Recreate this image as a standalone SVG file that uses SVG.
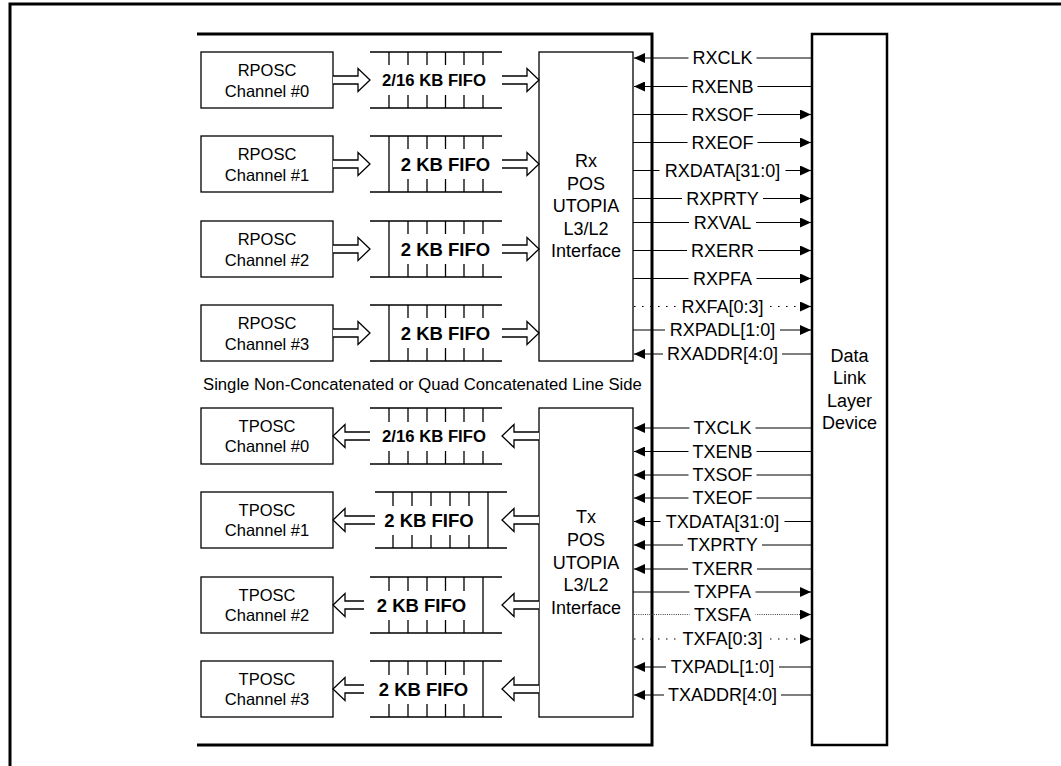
<svg xmlns="http://www.w3.org/2000/svg" width="1061" height="766" viewBox="0 0 1061 766">
<style>
text{font-family:"Liberation Sans",Arial,Helvetica,sans-serif;fill:#000}
.box{fill:#fff;stroke:#000;stroke-width:1.3}
.thick{fill:none;stroke:#000;stroke-width:3}
.fifo{fill:none;stroke:#000;stroke-width:1.3}
.ch{font-size:16.5px;text-anchor:middle}
.f16{font-size:16.7px;font-weight:bold;text-anchor:middle}
.f2{font-size:18.5px;font-weight:bold;text-anchor:middle}
.big{font-size:18px;text-anchor:middle}
.harrow{fill:#fff;stroke:#000;stroke-width:1.3}
.sig{stroke:#000;stroke-width:1.2;fill:none}
.dot{stroke-dasharray:1.5 6.5}
.fine{stroke-dasharray:1 1.2;stroke:#444}
.bg{fill:#fff}
.sl{font-size:18px;text-anchor:middle}
</style>
<defs>
<marker id="ah" markerUnits="userSpaceOnUse" markerWidth="12" markerHeight="10" refX="11" refY="5" orient="auto"><path d="M0,0L11,5L0,10z" fill="#000"/></marker>
</defs>
<rect width="1061" height="766" fill="#fff"/>
<g id="frame">
<path class="thick" d="M10,766V4H1061"/>
</g>
<g id="chip">
<path class="thick" d="M197,34H652V745H197"/>
<text x="203" y="390" style="font-size:16.7px">Single Non-Concatenated or Quad Concatenated Line Side</text>
</g>
<g id="rposc0"><rect class="box" x="201" y="52" width="132" height="56"/><text class="ch" x="267" y="76">RPOSC</text><text class="ch" x="267" y="96.5">Channel #0</text></g>
<g id="rposc1"><rect class="box" x="201" y="136" width="132" height="56"/><text class="ch" x="267" y="160">RPOSC</text><text class="ch" x="267" y="180.5">Channel #1</text></g>
<g id="rposc2"><rect class="box" x="201" y="221" width="132" height="56"/><text class="ch" x="267" y="245">RPOSC</text><text class="ch" x="267" y="265.5">Channel #2</text></g>
<g id="rposc3"><rect class="box" x="201" y="305" width="132" height="56"/><text class="ch" x="267" y="329">RPOSC</text><text class="ch" x="267" y="349.5">Channel #3</text></g>
<g id="rfifo0"><path class="fifo" d="M370,52H502M370,108H502M389,52v13M408,52v13M427,52v13M445.5,52v13M464,52v13M483,52v13M389,108v-13M408,108v-13M427,108v-13M445.5,108v-13M464,108v-13M483,108v-13"/><text class="f16" x="434" y="86">2/16 KB FIFO</text></g>
<g id="rfifo1"><path class="fifo" d="M370,136H502M370,192H502M389,136V192M408,136v13M427,136v13M445.5,136v13M464,136v13M483,136v13M408,192v-13M427,192v-13M445.5,192v-13M464,192v-13M483,192v-13"/><text class="f2" x="445.5" y="170.7">2 KB FIFO</text></g>
<g id="rfifo2"><path class="fifo" d="M370,221H502M370,277H502M389,221V277M408,221v13M427,221v13M445.5,221v13M464,221v13M483,221v13M408,277v-13M427,277v-13M445.5,277v-13M464,277v-13M483,277v-13"/><text class="f2" x="445.5" y="255.7">2 KB FIFO</text></g>
<g id="rfifo3"><path class="fifo" d="M370,305H502M370,361H502M389,305V361M408,305v13M427,305v13M445.5,305v13M464,305v13M483,305v13M408,361v-13M427,361v-13M445.5,361v-13M464,361v-13M483,361v-13"/><text class="f2" x="445.5" y="339.7">2 KB FIFO</text></g>
<g id="rx"><rect class="box" x="539" y="52" width="94" height="309"/><text class="big" x="586" y="167">Rx</text><text class="big" x="586" y="189.5">POS</text><text class="big" x="586" y="212">UTOPIA</text><text class="big" x="586" y="234.5">L3/L2</text><text class="big" x="586" y="257">Interface</text></g>
<g id="tposc0"><rect class="box" x="201" y="408" width="132" height="56"/><text class="ch" x="267" y="432">TPOSC</text><text class="ch" x="267" y="452">Channel #0</text></g>
<g id="tposc1"><rect class="box" x="201" y="492" width="132" height="56"/><text class="ch" x="267" y="516">TPOSC</text><text class="ch" x="267" y="536">Channel #1</text></g>
<g id="tposc2"><rect class="box" x="201" y="577" width="132" height="56"/><text class="ch" x="267" y="601">TPOSC</text><text class="ch" x="267" y="621">Channel #2</text></g>
<g id="tposc3"><rect class="box" x="201" y="661" width="132" height="56"/><text class="ch" x="267" y="685">TPOSC</text><text class="ch" x="267" y="705">Channel #3</text></g>
<g id="tfifo0"><path class="fifo" d="M370,408H502M370,464H502M389,408v14M408,408v14M427,408v14M445.5,408v14M464,408v14M483,408v14M389,464v-13M408,464v-13M427,464v-13M445.5,464v-13M464,464v-13M483,464v-13"/><text class="f16" x="434" y="442">2/16 KB FIFO</text></g>
<g id="tfifo1"><path class="fifo" d="M375,492H507M375,548H507M488,492V548M393,492v14M412,492v14M431,492v14M450,492v14M469,492v14M393,548v-13M412,548v-13M431,548v-13M450,548v-13M469,548v-13"/><text class="f2" x="429" y="526.7">2 KB FIFO</text></g>
<g id="tfifo2"><path class="fifo" d="M370,577H502M370,633H502M483,577V633M389,577v14M408,577v14M427,577v14M445.5,577v14M464,577v14M389,633v-13M408,633v-13M427,633v-13M445.5,633v-13M464,633v-13"/><text class="f2" x="421.5" y="611.7">2 KB FIFO</text></g>
<g id="tfifo3"><path class="fifo" d="M370,661H502M370,717H502M483,661V717M389,661v14M408,661v14M427,661v14M445.5,661v14M464,661v14M389,717v-13M408,717v-13M427,717v-13M445.5,717v-13M464,717v-13"/><text class="f2" x="423.5" y="695.7">2 KB FIFO</text></g>
<g id="tx"><rect class="box" x="539" y="408" width="94" height="309"/><text class="big" x="586" y="523">Tx</text><text class="big" x="586" y="546">POS</text><text class="big" x="586" y="568.5">UTOPIA</text><text class="big" x="586" y="591">L3/L2</text><text class="big" x="586" y="613.5">Interface</text></g>
<g id="dll"><rect x="812" y="34" width="75" height="711" fill="#fff" stroke="#000" stroke-width="2.5"/><text class="big" x="849.5" y="361.5">Data</text><text class="big" x="849.5" y="384">Link</text><text class="big" x="849.5" y="406.5">Layer</text><text class="big" x="849.5" y="429">Device</text></g>
<g id="connectors">
<g id="dataflow">
<path class="harrow" d="M333,76H358V68.5L370,80L358,91.5V84H333"/>
<path class="harrow" d="M333,160H358V152.5L370,164L358,175.5V168H333"/>
<path class="harrow" d="M333,245H358V237.5L370,249L358,260.5V253H333"/>
<path class="harrow" d="M333,329H358V321.5L370,333L358,344.5V337H333"/>
<path class="harrow" d="M502,76H527V68.5L539,80L527,91.5V84H502"/>
<path class="harrow" d="M502,160H527V152.5L539,164L527,175.5V168H502"/>
<path class="harrow" d="M502,245H527V237.5L539,249L527,260.5V253H502"/>
<path class="harrow" d="M502,329H527V321.5L539,333L527,344.5V337H502"/>
<path class="harrow" d="M539,432H514V424.5L502,436L514,447.5V440H539"/>
<path class="harrow" d="M539,516H514V508.5L502,520L514,531.5V524H539"/>
<path class="harrow" d="M539,601H514V593.5L502,605L514,616.5V609H539"/>
<path class="harrow" d="M539,685H514V677.5L502,689L514,700.5V693H539"/>
<path class="harrow" d="M370,432H345V424.5L333,436L345,447.5V440H370"/>
<path class="harrow" d="M375,516H345V508.5L333,520L345,531.5V524H375"/>
<path class="harrow" d="M364,601H345V593.5L333,605L345,616.5V609H364"/>
<path class="harrow" d="M364,685H345V677.5L333,689L345,700.5V693H364"/>
</g>
<g id="signals" class="sig">
<line x1="811" y1="58" x2="634" y2="58" marker-end="url(#ah)"/>
<line x1="811" y1="86.5" x2="634" y2="86.5" marker-end="url(#ah)"/>
<line x1="633" y1="114.5" x2="811" y2="114.5" marker-end="url(#ah)"/>
<line x1="633" y1="142.5" x2="811" y2="142.5" marker-end="url(#ah)"/>
<line x1="633" y1="170.5" x2="811" y2="170.5" marker-end="url(#ah)"/>
<line x1="633" y1="198.5" x2="811" y2="198.5" marker-end="url(#ah)"/>
<line x1="633" y1="222.5" x2="811" y2="222.5" marker-end="url(#ah)"/>
<line x1="633" y1="250.5" x2="811" y2="250.5" marker-end="url(#ah)"/>
<line x1="633" y1="278.5" x2="811" y2="278.5" marker-end="url(#ah)"/>
<line class="dot" x1="634" y1="306.5" x2="811" y2="306.5" marker-end="url(#ah)"/>
<line x1="633" y1="330" x2="811" y2="330" marker-end="url(#ah)"/>
<line x1="811" y1="354" x2="634" y2="354" marker-end="url(#ah)"/>
<line x1="811" y1="428" x2="634" y2="428" marker-end="url(#ah)"/>
<line x1="811" y1="451.5" x2="634" y2="451.5" marker-end="url(#ah)"/>
<line x1="811" y1="475" x2="634" y2="475" marker-end="url(#ah)"/>
<line x1="811" y1="498" x2="634" y2="498" marker-end="url(#ah)"/>
<line x1="811" y1="521.5" x2="634" y2="521.5" marker-end="url(#ah)"/>
<line x1="811" y1="545" x2="634" y2="545" marker-end="url(#ah)"/>
<line x1="811" y1="569" x2="634" y2="569" marker-end="url(#ah)"/>
<line x1="633" y1="592" x2="811" y2="592" marker-end="url(#ah)"/>
<line class="fine" x1="634" y1="614.5" x2="811" y2="614.5" marker-end="url(#ah)"/>
<line class="dot" x1="634" y1="639" x2="811" y2="639" marker-end="url(#ah)"/>
<line x1="811" y1="667" x2="634" y2="667" marker-end="url(#ah)"/>
<line x1="811" y1="695" x2="634" y2="695" marker-end="url(#ah)"/>
</g>
<g id="signal-labels">
<rect class="bg" x="688.5" y="51" width="68" height="14"/><text class="sl" x="722.5" y="64.4">RXCLK</text>
<rect class="bg" x="687.5" y="79.5" width="70" height="14"/><text class="sl" x="722.5" y="92.9">RXENB</text>
<rect class="bg" x="687.5" y="107.5" width="70" height="14"/><text class="sl" x="722.5" y="120.9">RXSOF</text>
<rect class="bg" x="687.5" y="135.5" width="70" height="14"/><text class="sl" x="722.5" y="148.9">RXEOF</text>
<rect class="bg" x="659.5" y="163.5" width="126" height="14"/><text class="sl" x="722.5" y="176.9">RXDATA[31:0]</text>
<rect class="bg" x="682" y="191.5" width="81" height="14"/><text class="sl" x="722.5" y="204.9">RXPRTY</text>
<rect class="bg" x="689" y="215.5" width="67" height="14"/><text class="sl" x="722.5" y="228.9">RXVAL</text>
<rect class="bg" x="687" y="243.5" width="71" height="14"/><text class="sl" x="722.5" y="256.9">RXERR</text>
<rect class="bg" x="688.5" y="271.5" width="68" height="14"/><text class="sl" x="722.5" y="284.9">RXPFA</text>
<rect class="bg" x="677" y="299.5" width="91" height="14"/><text class="sl" x="722.5" y="312.9">RXFA[0:3]</text>
<rect class="bg" x="665" y="323" width="115" height="14"/><text class="sl" x="722.5" y="336.4">RXPADL[1:0]</text>
<rect class="bg" x="663" y="347" width="119" height="14"/><text class="sl" x="722.5" y="360.4">RXADDR[4:0]</text>
<rect class="bg" x="689.5" y="421" width="66" height="14"/><text class="sl" x="722.5" y="434.4">TXCLK</text>
<rect class="bg" x="688.5" y="444.5" width="68" height="14"/><text class="sl" x="722.5" y="457.9">TXENB</text>
<rect class="bg" x="688.5" y="468" width="68" height="14"/><text class="sl" x="722.5" y="481.4">TXSOF</text>
<rect class="bg" x="688.5" y="491" width="68" height="14"/><text class="sl" x="722.5" y="504.4">TXEOF</text>
<rect class="bg" x="660.5" y="514.5" width="124" height="14"/><text class="sl" x="722.5" y="527.9">TXDATA[31:0]</text>
<rect class="bg" x="683" y="538" width="79" height="14"/><text class="sl" x="722.5" y="551.4">TXPRTY</text>
<rect class="bg" x="688" y="562" width="69" height="14"/><text class="sl" x="722.5" y="575.4">TXERR</text>
<rect class="bg" x="689.5" y="585" width="66" height="14"/><text class="sl" x="722.5" y="598.4">TXPFA</text>
<rect class="bg" x="689.5" y="607.5" width="66" height="14"/><text class="sl" x="722.5" y="620.9">TXSFA</text>
<rect class="bg" x="678" y="632" width="89" height="14"/><text class="sl" x="722.5" y="645.4">TXFA[0:3]</text>
<rect class="bg" x="666" y="660" width="113" height="14"/><text class="sl" x="722.5" y="673.4">TXPADL[1:0]</text>
<rect class="bg" x="664" y="688" width="117" height="14"/><text class="sl" x="722.5" y="701.4">TXADDR[4:0]</text>
</g>
</g>
</svg>
